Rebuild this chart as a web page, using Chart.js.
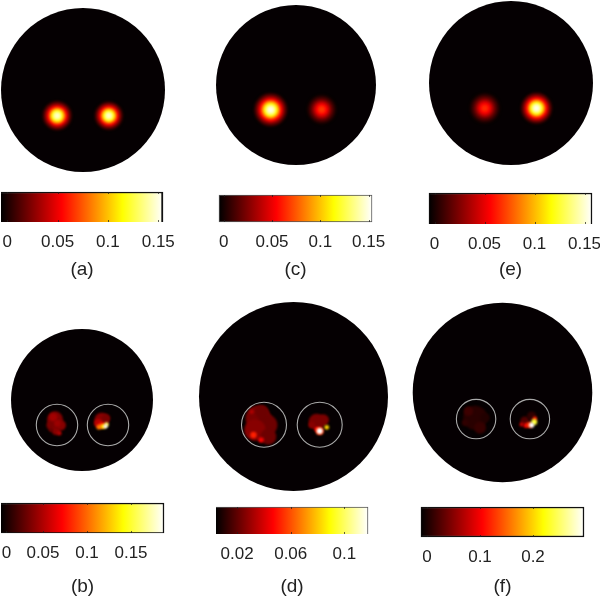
<!DOCTYPE html>
<html>
<head>
<meta charset="utf-8">
<style>
  html, body { margin: 0; padding: 0; background: #fff; width: 600px; height: 598px; overflow: hidden; }
  canvas { position: absolute; }
</style>
<script src="https://cdn.jsdelivr.net/npm/chart.js@4/dist/chart.umd.min.js"></script>
</head>
<body>
<script>
// colorbar ranges [min, max] and ticks
const bar_a = [-0.0062, 0.1547];
const ticks_a = [0, 0.05, 0.1, 0.15];
const labels_a = ['0', '0.05', '0.1', '0.15'];
const bar_c = [-0.0049, 0.1535];
const ticks_c = [0, 0.05, 0.1, 0.15];
const labels_c = ['0', '0.05', '0.1', '0.15'];
const bar_e = [-0.0055, 0.1575];
const ticks_e = [0, 0.05, 0.1, 0.15];
const labels_e = ['0', '0.05', '0.1', '0.15'];
const bar_b = [0.0023, 0.1875];
const ticks_b = [0.0085, 0.05, 0.1, 0.15]; // the '0' label sits just inside the bar
const labels_b = ['0', '0.05', '0.1', '0.15'];
const bar_d = [0.0043, 0.1176];
const ticks_d = [0.02, 0.06, 0.1];
const labels_d = ['0.02', '0.06', '0.1'];
const bar_f = [-0.0113, 0.2962];
const ticks_f = [0, 0.1, 0.2];
const labels_f = ['0', '0.1', '0.2'];

// radial profile of the true spots: distance (share of spot size), level (share of peak)
const blob_dist = [1, 0.88, 0.77, 0.67, 0.58, 0.5, 0.42, 0.34, 0.26, 0.18, 0.1];
const blob_level = [0.07, 0.16, 0.26, 0.37, 0.48, 0.6, 0.71, 0.81, 0.89, 0.95, 0.99];

// true spots: x, y from disc centre, size, peak (colormap fraction)
const blobs_a = [[-25.8, 25.7, 15, 0.97], [25.8, 25.7, 14.5, 0.97]];
const blobs_c = [[-25.3, 24.8, 17, 1], [25.7, 24.5, 15, 0.47]];
const blobs_e = [[-26.2, 25.2, 15.5, 0.45], [25.5, 25.2, 16, 1]];

// reconstructed patches: x, y from disc centre, radius, level (colormap fraction)
const lumps_b = [
  [-27, 19.3, 8, 0.19], [-30.3, 25.3, 5.3, 0.18], [-21.3, 25.3, 5.3, 0.2], [-26, 30.7, 4.3, 0.2],
  [-22.7, 33.3, 2.3, 0.26], [-31, 30, 2, 0.16], [-28.7, 17.3, 4, 0.24], [-24.7, 23.3, 3.3, 0.23],
  [19.7, 20, 7.3, 0.2], [24, 18.3, 4.3, 0.18], [16.3, 23.3, 4.3, 0.27], [19.7, 25.3, 3, 0.4],
  [17, 27, 2.6, 0.55], [21, 26.5, 2.5, 0.7], [24.5, 24.5, 2.2, 0.85], [23.5, 26.5, 2, 1]
];
const lumps_d = [
  [-35.2, 21.8, 12.7, 0.18], [-26.8, 28.5, 10.7, 0.16], [-38.5, 33.5, 10.7, 0.2], [-25.2, 40.2, 8, 0.16],
  [-31.8, 15.2, 6.7, 0.16], [-40, 38.5, 3.2, 0.42], [-32.5, 43.5, 2.8, 0.36], [-41.8, 15.2, 2.2, 0.26],
  [23.2, 25.2, 8, 0.18], [29.8, 23.5, 5.7, 0.18], [18.2, 28.5, 3.3, 0.2], [23.2, 32.8, 2.4, 0.38],
  [33.2, 30.8, 2.4, 0.68], [26.2, 34.5, 4, 0.45], [26.2, 34.5, 3, 1]
];
const lumps_f = [
  [-27.5, 25.3, 12, 0.06], [-34.2, 18.7, 4.7, 0.09], [-22.5, 35.3, 6, 0.08], [-37.5, 30.3, 3.3, 0.07],
  [-17.5, 25.3, 4.7, 0.05], [22.5, 28.7, 4.7, 0.12], [29.2, 23.7, 4.7, 0.07], [23.5, 33, 2.5, 0.36],
  [19.2, 32, 2.2, 0.28], [32.5, 26.3, 2.2, 0.42], [27, 32.5, 3, 0.45], [31.8, 29.7, 3, 0.8], [29.2, 32.7, 2.6, 1]
];

// true inclusion outlines: x, y from disc centre, radius
const rings_b = [[-25, 25, 20.7], [26, 25, 20.7]];
const rings_d = [[-29.5, 28.2, 22.5], [26.2, 28.2, 22.5]];
const rings_f = [[-26.5, 26.7, 19.7], [27.5, 26.7, 19.7]];

// layout of each panel on the page
const disc_layout = {
  a: { cx: 82.5, cy: 90, r: 82 }, c: { cx: 296, cy: 84.5, r: 80 }, e: { cx: 510.5, cy: 82.5, r: 82 },
  b: { cx: 82, cy: 400, r: 71 }, d: { cx: 293.5, cy: 396.5, r: 94.5 }, f: { cx: 502.5, cy: 393, r: 89.8 }
};
const bar_layout = {
  a: { left: 1, right: 163, top: 192, bottom: 222, label_x: 78, label_y: 270, edge: '#111',
       edge_w: { top: 1.5, right: 2, bottom: 0, left: 0 } },
  c: { left: 219, right: 372, top: 195, bottom: 222, label_x: 296, label_y: 270, edge: '#555',
       edge_w: { top: 1, right: 1, bottom: 1, left: 1 } },
  e: { left: 429, right: 592, top: 193, bottom: 224, label_x: 506, label_y: 270, edge: '#111',
       edge_w: { top: 1.5, right: 1.5, bottom: 0, left: 1 } },
  b: { left: 1, right: 164, top: 503, bottom: 533, label_x: 78, label_y: 587, edge: '#111',
       edge_w: { top: 1.5, right: 1.5, bottom: 1, left: 0 } },
  d: { left: 216, right: 368, top: 507, bottom: 534, label_x: 297, label_y: 587, edge: '#555',
       edge_w: { top: 1, right: 1, bottom: 0, left: 0 } },
  f: { left: 421, right: 584, top: 507, bottom: 537, label_x: 503, label_y: 587, edge: '#111',
       edge_w: { top: 1.5, right: 1.5, bottom: 1.5, left: 1 } }
};

const text_color = '#222';
const font_name = '"Liberation Sans", Arial, sans-serif';
const hot_stops = [[0, '#000000'], [0.375, '#ff0000'], [0.75, '#ffff00'], [1, '#ffffff']];

function clamp01(v) { return Math.max(0, Math.min(1, v)); }

// matlab 'hot'
function hot_color(f) {
  const r = Math.round(255 * clamp01(f / 0.375));
  const g = Math.round(255 * clamp01((f - 0.375) / 0.375));
  const b = Math.round(255 * clamp01((f - 0.75) / 0.25));
  return `rgb(${r},${g},${b})`;
}

function new_canvas(left, top, w, h) {
  const c = document.createElement('canvas');
  c.width = w; c.height = h;
  c.style.left = left + 'px';
  c.style.top = top + 'px';
  document.body.appendChild(c);
  return c;
}

// soft edges for the heat marks
const blur_plugin = {
  id: 'blur_plugin',
  beforeDatasetDraw(chart, args) {
    const b = chart.data.datasets[args.index].blur;
    if (b) chart.ctx.filter = `blur(${b}px)`;
  },
  afterDatasetDraw(chart) { chart.ctx.filter = 'none'; }
};

// little inward tick marks on the colorbar, top and bottom
const bar_tick_plugin = {
  id: 'bar_tick_plugin',
  afterDatasetsDraw(chart) {
    const { ctx, chartArea: area, scales: { x } } = chart;
    ctx.save();
    ctx.strokeStyle = 'rgba(30,30,30,0.7)';
    ctx.lineWidth = 1;
    x.ticks.forEach(t => {
      const px = Math.round(x.getPixelForValue(t.value)) + 0.5;
      ctx.beginPath();
      ctx.moveTo(px, area.top); ctx.lineTo(px, area.top + 2);
      ctx.moveTo(px, area.bottom - 2); ctx.lineTo(px, area.bottom);
      ctx.stroke();
    });
    ctx.restore();
  }
};

function heat_points(blobs, lumps) {
  const pts = [];
  blobs.forEach(([x, y, size, peak]) => {
    blob_dist.forEach((d, i) => pts.push({ x, y, r: size * d, v: peak * blob_level[i] }));
  });
  lumps.forEach(([x, y, r, v]) => pts.push({ x, y, r, v }));
  return pts;
}

function make_disc(key, blobs, lumps, rings) {
  const lay = disc_layout[key];
  const half = lay.r + 2;
  const canvas = new_canvas(lay.cx - half, lay.cy - half, half * 2, half * 2);
  new Chart(canvas.getContext('2d'), {
    type: 'bubble',
    plugins: [blur_plugin],
    data: {
      datasets: [
        {
          data: rings.map(([x, y, r]) => ({ x, y, r })),
          backgroundColor: 'rgba(0,0,0,0)',
          borderColor: '#aaaaaa',
          borderWidth: 1.1
        },
        {
          data: heat_points(blobs, lumps),
          backgroundColor: ctx => hot_color(ctx.raw.v),
          borderWidth: 0,
          blur: 0.9
        },
        {
          data: [{ x: 0, y: 0, r: lay.r }],
          backgroundColor: '#050002',
          borderWidth: 0
        }
      ]
    },
    options: {
      responsive: false,
      animation: false,
      events: [],
      clip: false,
      layout: { padding: 0, autoPadding: false }, // big bubbles must not shrink the plot
      plugins: { legend: { display: false }, tooltip: { enabled: false } },
      scales: {
        x: { type: 'linear', display: false, min: -half, max: half },
        y: { type: 'linear', display: false, min: -half, max: half, reverse: true }
      }
    }
  });
}

function make_bar(key, range, tick_values, tick_labels) {
  const lay = bar_layout[key];
  const title_h = 22;
  const reach = 100;
  const canvas_top = lay.top - 3;
  const canvas_h = Math.round(lay.label_y + title_h / 2) - canvas_top;
  const canvas = new_canvas(lay.label_x - reach, canvas_top, reach * 2, canvas_h);
  new Chart(canvas.getContext('2d'), {
    type: 'bar',
    plugins: [bar_tick_plugin],
    data: {
      labels: [key],
      datasets: [{
        data: [range],
        backgroundColor: ctx => {
          const area = ctx.chart.chartArea;
          if (!area) return '#000';
          const g = ctx.chart.ctx.createLinearGradient(area.left, 0, area.right, 0);
          hot_stops.forEach(([at, col]) => g.addColorStop(at, col));
          return g;
        },
        borderColor: lay.edge,
        borderWidth: lay.edge_w,
        borderSkipped: false,
        barPercentage: 1,
        categoryPercentage: 1,
        clip: false
      }]
    },
    options: {
      responsive: false,
      animation: false,
      events: [],
      indexAxis: 'y',
      layout: {
        padding: {
          left: lay.left - (lay.label_x - reach),
          right: lay.label_x + reach - lay.right,
          top: 3,
          bottom: 0
        }
      },
      plugins: {
        legend: { display: false },
        tooltip: { enabled: false },
        title: {
          display: true,
          text: `(${key})`,
          position: 'bottom',
          color: text_color,
          padding: 0,
          font: { family: font_name, size: 19, weight: 'normal', lineHeight: title_h / 19 }
        }
      },
      scales: {
        y: { display: false },
        x: {
          type: 'linear',
          min: range[0],
          max: range[1],
          grid: { display: false, drawTicks: false },
          border: { display: false },
          afterBuildTicks: s => { s.ticks = tick_values.map(v => ({ value: v })); },
          afterFit: s => {
            s.height = lay.label_y - title_h / 2 - lay.bottom;
            s.paddingLeft = 0; // tick labels may run past the bar
            s.paddingRight = 0;
          },
          ticks: {
            autoSkip: false,
            maxRotation: 0,
            padding: 10,
            color: text_color,
            font: { family: font_name, size: 17 },
            callback: (v, i) => tick_labels[i]
          }
        }
      }
    }
  });
}

make_disc('a', blobs_a, [], []);
make_disc('c', blobs_c, [], []);
make_disc('e', blobs_e, [], []);
make_disc('b', [], lumps_b, rings_b);
make_disc('d', [], lumps_d, rings_d);
make_disc('f', [], lumps_f, rings_f);

make_bar('a', bar_a, ticks_a, labels_a);
make_bar('c', bar_c, ticks_c, labels_c);
make_bar('e', bar_e, ticks_e, labels_e);
make_bar('b', bar_b, ticks_b, labels_b);
make_bar('d', bar_d, ticks_d, labels_d);
make_bar('f', bar_f, ticks_f, labels_f);
</script>
</body>
</html>
